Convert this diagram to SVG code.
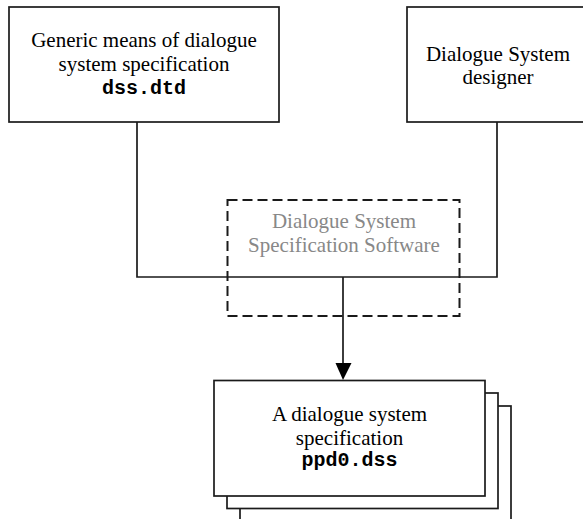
<svg xmlns="http://www.w3.org/2000/svg" width="583" height="519" viewBox="0 0 583 519">
<style>
.box{fill:#fff;stroke:#1a1a1a;stroke-width:1.7}
.t{font-family:"Liberation Serif","Times New Roman",serif;font-size:21px;fill:#000;text-anchor:middle}
.m{font-family:"Liberation Mono","Courier New",monospace;font-size:20px;font-weight:bold;fill:#000;text-anchor:middle}
.g{fill:#888}
.ln{fill:none;stroke:#1a1a1a;stroke-width:1.7}
</style>
<rect width="583" height="519" fill="#fff"/>
<g id="connectors">
<path class="ln" d="M137,122 V277 H497 V122"/>
<line class="ln" x1="343" y1="277" x2="343" y2="363"/>
<path d="M335.5,363 L351.5,363 L343,380 Z" fill="#000"/>
</g>
<g id="dss-dtd">
<rect class="box" x="9" y="7" width="270" height="115"/>
<text class="t" x="144" y="47">Generic means of dialogue</text>
<text class="t" x="144" y="71">system specification</text>
<text class="m" x="144" y="94">dss.dtd</text>
</g>
<g id="designer">
<rect class="box" x="407" y="7" width="182" height="115"/>
<text class="t" x="498" y="61">Dialogue System</text>
<text class="t" x="498" y="84">designer</text>
</g>
<g id="software">
<rect x="227.5" y="200" width="232" height="116" fill="none" stroke="#1a1a1a" stroke-width="2" stroke-dasharray="10 5"/>
<text class="t g" x="344" y="228">Dialogue System</text>
<text class="t g" x="344" y="252">Specification Software</text>
</g>
<g id="spec">
<rect class="box" x="240" y="406" width="271" height="120"/>
<rect class="box" x="227" y="393" width="271" height="115.5"/>
<rect class="box" x="214" y="380.5" width="271" height="115.5"/>
<text class="t" x="349.5" y="421">A dialogue system</text>
<text class="t" x="349.5" y="445">specification</text>
<text class="m" x="349.5" y="466">ppd0.dss</text>
</g>
</svg>
